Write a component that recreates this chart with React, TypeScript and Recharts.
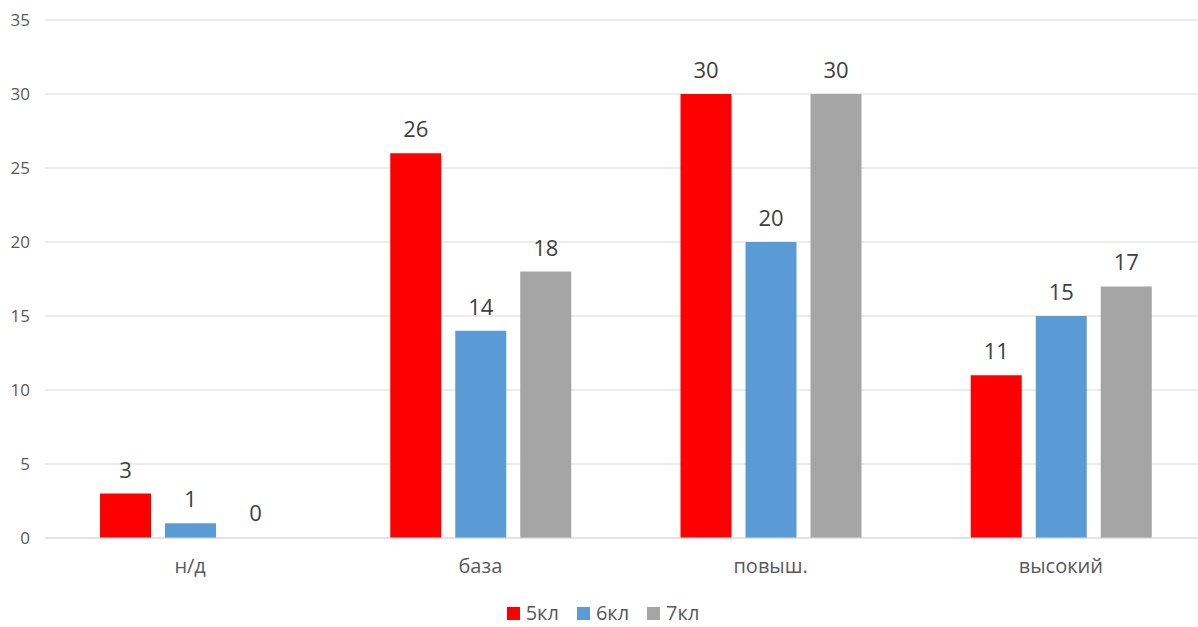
import { BarChart, Bar, XAxis, YAxis, CartesianGrid, Legend, LabelList, Rectangle } from "recharts";

const categories = ["н/д", "база", "повыш.", "высокий"];
const grade5 = [3, 26, 30, 11];
const grade6 = [1, 14, 20, 15];
const grade7 = [0, 18, 30, 17];
const yTicks = [0, 5, 10, 15, 20, 25, 30, 35];

const data = categories.map((name, i) => ({
  name,
  k5: grade5[i],
  k6: grade6[i],
  k7: grade7[i],
}));

const font = "'Open Sans', 'Noto Sans', sans-serif";

// zero bars get 1px via minPointSize so their label is drawn; the shape hides them
const zeroMin = (value: any) => (Number(value) === 0 ? 1 : 0);
const barShape = (props: any) => (Number(props.value) === 0 ? <g /> : <Rectangle {...props} />);

const renderLabel = (props: any) => {
  const { x, y, width, value } = props;
  return (
    <text
      x={Number(x) + Number(width) / 2}
      y={Number(y) - 16}
      textAnchor="middle"
      fill="#404040"
      fontSize={22}
      fontFamily={font}
    >
      {value}
    </text>
  );
};

const renderYTick = (props: any) => {
  const { x, y, payload } = props;
  return (
    <text x={Number(x)} y={Number(y)} dy={6} textAnchor="end" fill="#595959" fontSize={17} fontFamily={font}>
      {payload.value}
    </text>
  );
};

const renderLegend = (props: any) => (
  <div style={{ display: "flex", justifyContent: "center", gap: 18, height: 28, alignItems: "center" }}>
    {(props.payload || []).map((p: any) => (
      <div key={p.value} style={{ display: "flex", alignItems: "center", gap: 6 }}>
        <span style={{ width: 13, height: 13, background: p.color, display: "inline-block" }} />
        <span style={{ color: "#595959", fontSize: 20, fontFamily: font, lineHeight: "26px" }}>{p.value}</span>
      </div>
    ))}
  </div>
);

export default function App() {
  return (
    <div style={{ position: "absolute", left: 0, top: 0, width: 1198, height: 627, background: "#fff", fontFamily: font, overflow: "hidden" }}>
      <BarChart
        width={1198}
        height={627}
        data={data}
        margin={{ top: 20, right: -8, left: 0, bottom: 0 }}
        barSize={51}
        barGap={14}
      >
        <CartesianGrid vertical={false} stroke="#d9d9d9" />
        <YAxis
          width={45}
          domain={[0, 35]}
          ticks={yTicks}
          axisLine={false}
          tickLine={false}
          tickMargin={9}
          tick={renderYTick}
        />
        <XAxis
          dataKey="name"
          height={61}
          axisLine={{ stroke: "#d9d9d9" }}
          tickLine={false}
          tickMargin={15}
          tick={{ fill: "#595959", fontSize: 20, fontFamily: font }}
        />
        <Legend verticalAlign="bottom" height={28} content={renderLegend} />
        <Bar dataKey="k5" name="5кл" fill="#ff0000" minPointSize={zeroMin} shape={barShape} isAnimationActive={false}>
          <LabelList dataKey="k5" content={renderLabel} />
        </Bar>
        <Bar dataKey="k6" name="6кл" fill="#5b9bd5" minPointSize={zeroMin} shape={barShape} isAnimationActive={false}>
          <LabelList dataKey="k6" content={renderLabel} />
        </Bar>
        <Bar dataKey="k7" name="7кл" fill="#a5a5a5" minPointSize={zeroMin} shape={barShape} isAnimationActive={false}>
          <LabelList dataKey="k7" content={renderLabel} />
        </Bar>
      </BarChart>
    </div>
  );
}
